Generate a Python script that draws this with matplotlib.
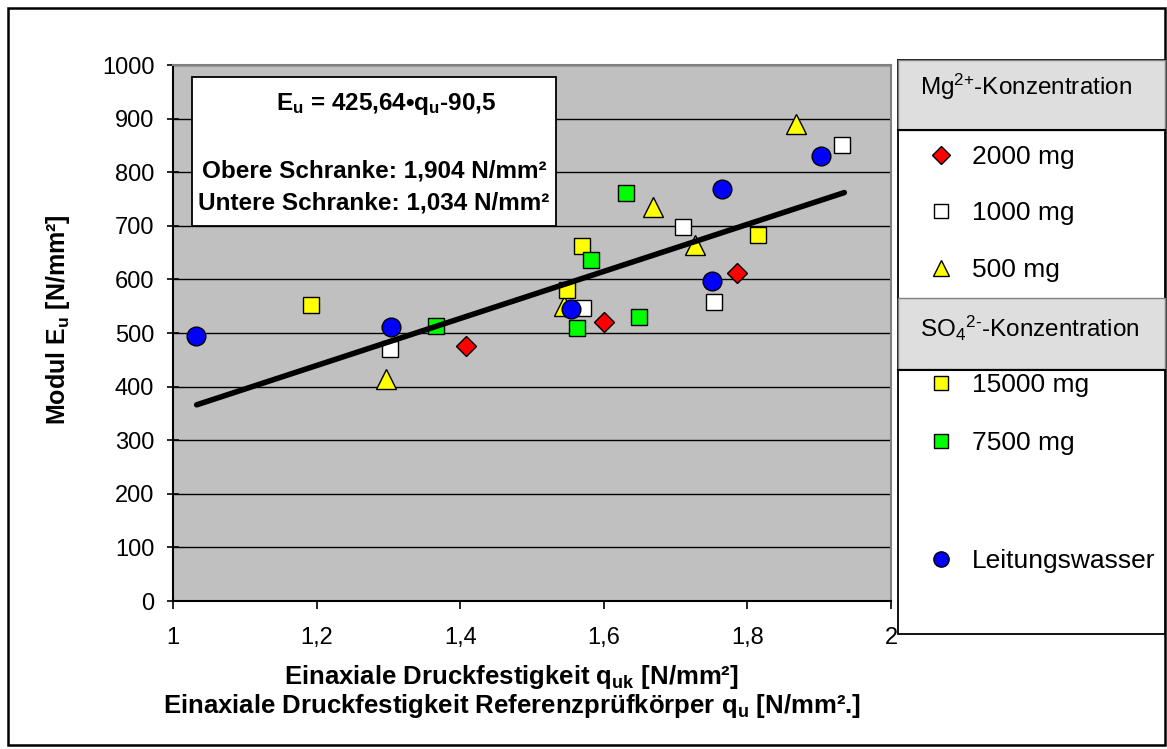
import matplotlib
matplotlib.use("Agg")
import matplotlib.pyplot as plt
from matplotlib.patches import Rectangle
from matplotlib.lines import Line2D

plt.rcParams['font.family'] = ['Liberation Sans', 'DejaVu Sans']
plt.rcParams['mathtext.fontset'] = 'custom'
plt.rcParams['mathtext.rm'] = 'Liberation Sans'
plt.rcParams['mathtext.it'] = 'Liberation Sans'
plt.rcParams['mathtext.bf'] = 'Liberation Sans:bold'

# ---- data ----
mg2000_x = [1.408, 1.600, 1.786]
mg2000_y = [475, 520, 612]
mg1000_x = [1.302, 1.571, 1.710, 1.753, 1.932]
mg1000_y = [470, 546, 697, 558, 851]
mg500_x = [1.297, 1.545, 1.669, 1.727, 1.868]
mg500_y = [415, 550, 735, 665, 889]
so15000_x = [1.192, 1.549, 1.570, 1.815]
so15000_y = [553, 580, 662, 683]
so7500_x = [1.366, 1.563, 1.582, 1.649, 1.631]
so7500_y = [513, 510, 637, 530, 762]
wasser_x = [1.032, 1.304, 1.554, 1.751, 1.765, 1.903]
wasser_y = [494, 511, 544, 597, 768, 830]
trend_x = [1.033, 1.935]
trend_y = [366, 762]

xticks = [1, 1.2, 1.4, 1.6, 1.8, 2]
xticklabels = ['1', '1,2', '1,4', '1,6', '1,8', '2']
yticks = list(range(0, 1001, 100))

W, H = 1167, 749
fig = plt.figure(figsize=(W / 100, H / 100), dpi=100)
fig.patch.set_facecolor('white')

ax = fig.add_axes([173 / W, 1 - 601 / H, (891 - 173) / W, (601 - 65) / H])
ax.set_facecolor('#c0c0c0')
ax.set_xlim(1, 2)
ax.set_ylim(0, 1000)
ax.set_xticks(xticks)
ax.set_xticklabels(xticklabels)
ax.set_yticks(yticks)
for y in yticks[1:]:
    ax.axhline(y, color='black', lw=1.0, zorder=1)
for s in ['top', 'right']:
    ax.spines[s].set_color('#808080')
    ax.spines[s].set_linewidth(1.5)
for s in ['left', 'bottom']:
    ax.spines[s].set_color('black')
    ax.spines[s].set_linewidth(1.5)
ax.tick_params(axis='x', direction='out', length=6, width=1.2, labelsize=17, pad=13)
ax.tick_params(axis='y', direction='inout', length=9, width=1.2, labelsize=17, pad=9)

mk = dict(linestyle='none', markeredgecolor='black', markeredgewidth=1.0, zorder=3)
ax.plot(mg2000_x, mg2000_y, marker='D', color='#ff0000', markersize=10, **mk)
ax.plot(mg1000_x, mg1000_y, marker='s', color='white', markersize=12, **mk)
ax.plot(mg500_x, mg500_y, marker='^', color='#ffff00', markersize=14, **mk)
ax.plot(so15000_x, so15000_y, marker='s', color='#ffff00', markersize=12, **mk)
ax.plot(so7500_x, so7500_y, marker='s', color='#00ff00', markersize=12, **mk)
ax.plot(wasser_x, wasser_y, marker='o', color='#0000ff', markersize=13.5, **mk)
ax.plot(trend_x, trend_y, color='black', lw=4, solid_capstyle='round', zorder=4)

ax.set_ylabel('Modul E$_\\mathbf{u}$ [N/mm²]', fontsize=18, fontweight='bold')
ax.yaxis.set_label_coords((72 - 173) / (891 - 173), (601 - 320) / (601 - 65))

fig.text(511 / W, 1 - 677 / H, 'Einaxiale Druckfestigkeit q$_\\mathbf{uk}$ [N/mm²]',
         ha='center', va='center', fontsize=18.5, fontweight='bold')
fig.text(512 / W, 1 - 706 / H, 'Einaxiale Druckfestigkeit Referenzprüfkörper q$_\\mathbf{u}$ [N/mm².]',
         ha='center', va='center', fontsize=18.5, fontweight='bold')

# overlay in pixel coordinates for layout elements
ov = fig.add_axes([0, 0, 1, 1], zorder=10)
ov.set_xlim(0, W)
ov.set_ylim(H, 0)
ov.axis('off')
ov.patch.set_alpha(0)

# figure border
ov.add_patch(Rectangle((8, 8), 1157, 737, fill=False, edgecolor='black', lw=1.8))

# equation text box
ov.add_patch(Rectangle((192, 77), 364, 149, facecolor='white', edgecolor='black', lw=1.3))
ov.text(386, 104, 'E$_\\mathbf{u}$ = 425,64•q$_\\mathbf{u}$-90,5', ha='center', va='center',
        fontsize=17.5, fontweight='bold')
ov.text(374, 171, 'Obere Schranke: 1,904 N/mm²', ha='center', va='center',
        fontsize=17.5, fontweight='bold')
ov.text(374, 203, 'Untere Schranke: 1,034 N/mm²', ha='center', va='center',
        fontsize=17.5, fontweight='bold')

# legend
ov.add_patch(Rectangle((898, 60), 267, 574, facecolor='white', edgecolor='black', lw=1.3))
ov.add_patch(Rectangle((898, 60), 267, 70, facecolor='#dedede', edgecolor='#808080', lw=1.0))
ov.plot([898, 1165], [130, 130], color='black', lw=1.5)
ov.add_patch(Rectangle((898, 298), 267, 71, facecolor='#dedede', edgecolor='#808080', lw=1.0))
ov.plot([898, 1165], [370, 370], color='black', lw=1.5)
ov.text(920, 87, 'Mg$^{\\text{2+}}$-Konzentration', ha='left', va='center', fontsize=17.5)
ov.text(920, 328, 'SO$_4$$^{\\text{2-}}$-Konzentration', ha='left', va='center', fontsize=17.5)

leg_entries = [
    (157, 'D', '#ff0000', 9, '2000 mg'),
    (213, 's', 'white', 10, '1000 mg'),
    (270, '^', '#ffff00', 11, '500 mg'),
    (385, 's', '#ffff00', 10, '15000 mg'),
    (443, 's', '#00ff00', 10, '7500 mg'),
    (561, 'o', '#0000ff', 11, 'Leitungswasser'),
]
for yy, m, c, ms, lab in leg_entries:
    ov.add_line(Line2D([941], [yy - 2], marker=m, markerfacecolor=c, markeredgecolor='black',
                       markeredgewidth=1.0, markersize=ms, linestyle='none'))
    ov.text(972, yy, lab, ha='left', va='center', fontsize=19)

fig.savefig('out.png', dpi=100, facecolor='white')
